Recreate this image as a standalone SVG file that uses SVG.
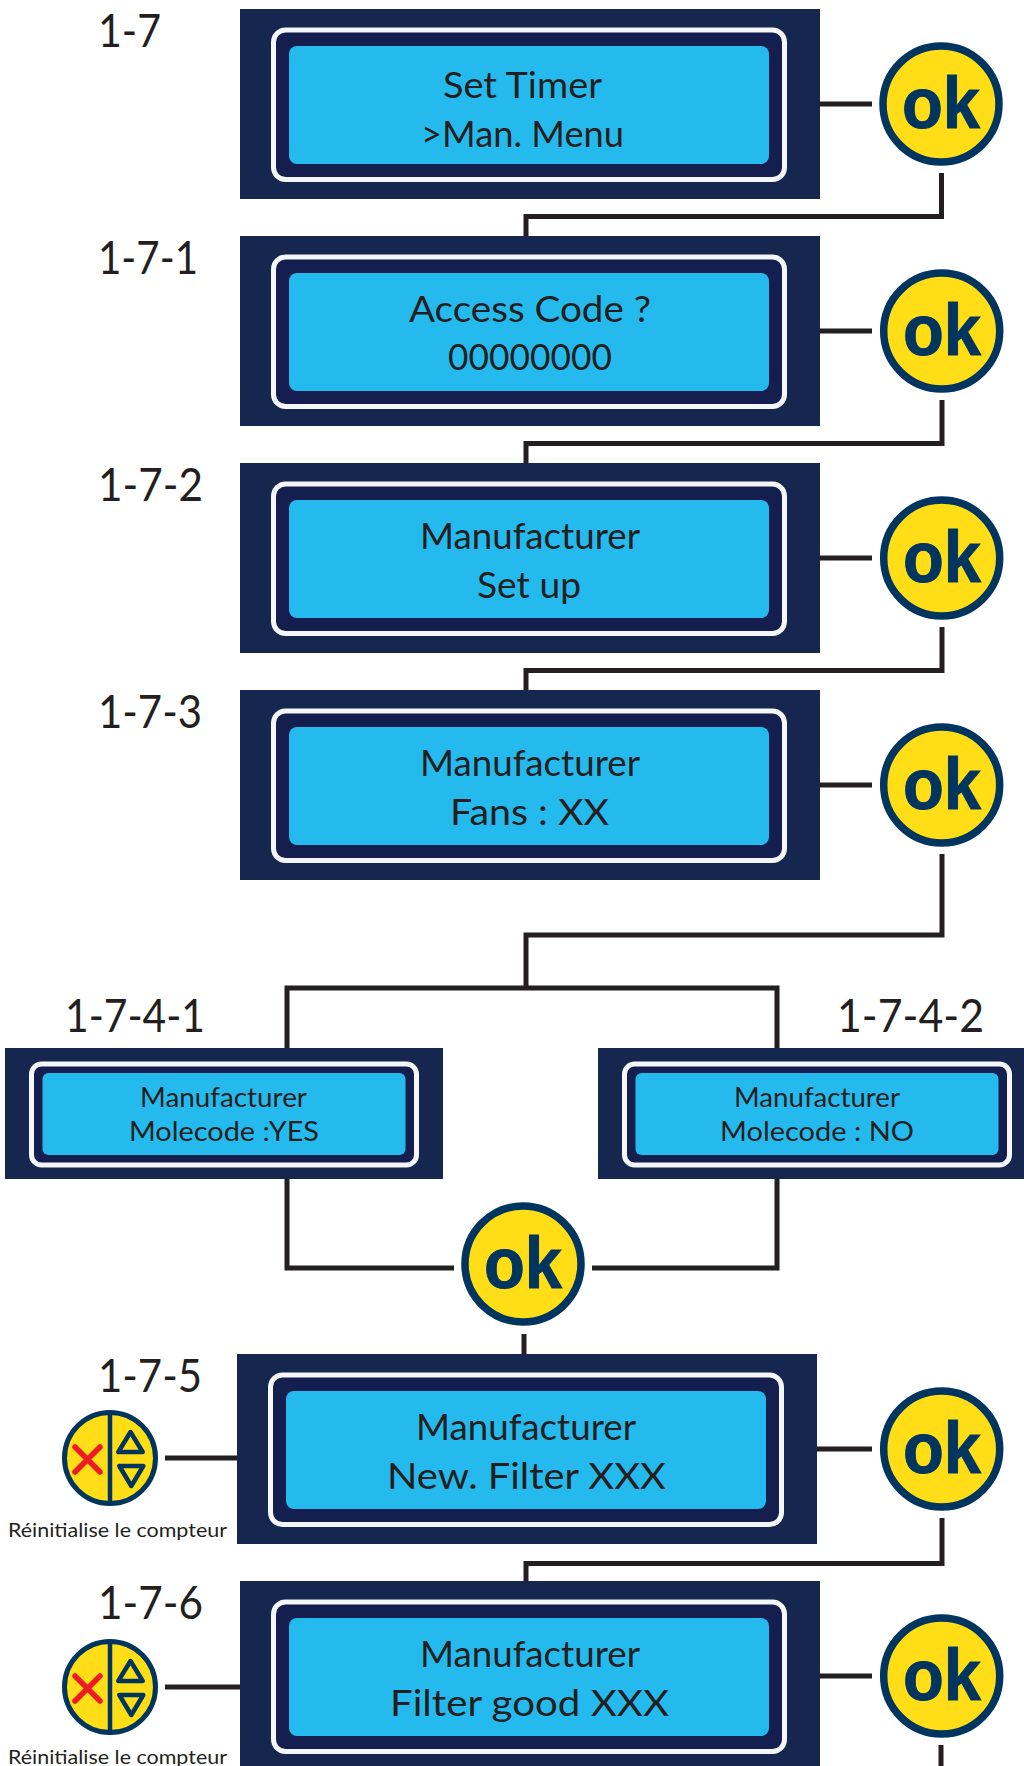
<svg xmlns="http://www.w3.org/2000/svg" xmlns:xlink="http://www.w3.org/1999/xlink" width="1024" height="1766" viewBox="0 0 1024 1766">
<style>
.bg{fill:#15264f}
.frame{fill:#141f50;stroke:#f4f6f8;stroke-width:5}
.screen{fill:#25baee}
.t{font-family:Lato,"Liberation Sans",sans-serif;fill:#231f20;text-anchor:start}
.lcd{font-size:37px}
.lcds{font-size:26px}
.lab{font-size:47px}
.cap{font-size:20px}
.okc{fill:#ffdd17;stroke:#00355f;stroke-width:7.5}
.okt{font-family:"Liberation Sans",Arial,sans-serif;font-weight:700;font-size:72px;fill:#00355f;stroke:#00355f;stroke-width:1}
.conn path{fill:none;stroke:#231f20;stroke-width:5;stroke-linejoin:miter}
.ic{fill:#ffdd17;stroke:#00355f;stroke-width:5}
.iv{stroke:#00355f;stroke-width:4.5}
.tri{fill:none;stroke:#00355f;stroke-width:4.5;stroke-linejoin:round}
.x{stroke:#ed1c24;stroke-width:5.5;stroke-linecap:round}
</style>
<defs>
<g id="lcdBig"><rect class="bg" width="580" height="190"/><rect class="frame" x="33.5" y="21" width="511" height="149.500" rx="12"/><rect class="screen" x="49" y="37" width="480" height="118" rx="8"/></g>
<g id="lcdSmall"><rect class="bg" width="438" height="131"/><rect class="frame" x="26.5" y="16" width="385" height="101" rx="10"/><rect class="screen" x="37.5" y="25" width="363" height="82" rx="6"/></g>
<g id="reset"><circle class="ic" cx="110" cy="0" r="45.500"/><line class="iv" x1="110" y1="-45" x2="110" y2="45"/><path class="tri" d="M130.500-26 118.300-6H142.700Z"/><path class="tri" d="M119.300 8H143.300L131.300 28Z"/><path class="x" d="M75-11 100 14M100-11 75 14"/></g>
</defs>
<rect width="1024" height="1766" fill="#fff"/>
<g id="connectors" class="conn">
<path d="M820 104H872"/>
<path d="M941.500 173V216.500H526V236"/>
<path d="M820 331H872"/>
<path d="M942 400V443.500H526V463"/>
<path d="M820 558H872"/>
<path d="M942 627V670.500H526V690"/>
<path d="M820 785H872"/>
<path d="M942 854V935H526V988"/>
<path d="M287 1048V988H777V1048"/>
<path d="M287 1179V1268H454"/>
<path d="M777 1179V1268H592"/>
<path d="M524 1334V1354"/>
<path d="M817 1449H872"/>
<path d="M942 1518V1563.500H526V1581"/>
<path d="M820 1676H872"/>
<path d="M941 1745V1766"/>
<path d="M165 1458H237"/>
<path d="M165 1687H240"/>
</g>
<g id="node-1-7"><use href="#lcdBig" x="240" y="9"/>
<text class="t lcd" x="443" y="98" textLength="159" lengthAdjust="spacingAndGlyphs">Set Timer</text>
<text class="t lcd" x="421" y="147" textLength="203" lengthAdjust="spacingAndGlyphs">&gt;Man. Menu</text></g>
<g id="node-1-7-1"><use href="#lcdBig" x="240" y="236"/>
<text class="t lcd" x="409" y="322" textLength="242" lengthAdjust="spacingAndGlyphs">Access Code ?</text>
<text class="t lcd" x="448" y="370" textLength="164" lengthAdjust="spacingAndGlyphs">00000000</text></g>
<g id="node-1-7-2"><use href="#lcdBig" x="240" y="463"/>
<text class="t lcd" x="420" y="549" textLength="220" lengthAdjust="spacingAndGlyphs">Manufacturer</text>
<text class="t lcd" x="477" y="598" textLength="104" lengthAdjust="spacingAndGlyphs">Set up</text></g>
<g id="node-1-7-3"><use href="#lcdBig" x="240" y="690"/>
<text class="t lcd" x="420" y="776" textLength="220" lengthAdjust="spacingAndGlyphs">Manufacturer</text>
<text class="t lcd" x="450" y="825" textLength="159" lengthAdjust="spacingAndGlyphs">Fans : XX</text></g>
<g id="node-1-7-4-1"><use href="#lcdSmall" x="5" y="1048"/>
<text class="t lcds" x="140" y="1107" textLength="167" lengthAdjust="spacingAndGlyphs">Manufacturer</text>
<text class="t lcds" x="129" y="1141" textLength="190" lengthAdjust="spacingAndGlyphs">Molecode :YES</text></g>
<g id="node-1-7-4-2"><use href="#lcdSmall" x="598" y="1048"/>
<text class="t lcds" x="734" y="1107" textLength="166" lengthAdjust="spacingAndGlyphs">Manufacturer</text>
<text class="t lcds" x="720" y="1141" textLength="194" lengthAdjust="spacingAndGlyphs">Molecode : NO</text></g>
<g id="node-1-7-5"><use href="#lcdBig" x="237" y="1354"/>
<text class="t lcd" x="416" y="1440" textLength="220" lengthAdjust="spacingAndGlyphs">Manufacturer</text>
<text class="t lcd" x="387" y="1489" textLength="279" lengthAdjust="spacingAndGlyphs">New. Filter XXX</text></g>
<g id="node-1-7-6"><use href="#lcdBig" x="240" y="1581"/>
<text class="t lcd" x="420" y="1667" textLength="220" lengthAdjust="spacingAndGlyphs">Manufacturer</text>
<text class="t lcd" x="390" y="1716" textLength="279" lengthAdjust="spacingAndGlyphs">Filter good XXX</text></g>
<g id="labels">
<text class="t lab" x="98" y="47" textLength="63" lengthAdjust="spacingAndGlyphs">1-7</text>
<text class="t lab" x="98" y="274" textLength="100" lengthAdjust="spacingAndGlyphs">1-7-1</text>
<text class="t lab" x="98" y="501" textLength="105" lengthAdjust="spacingAndGlyphs">1-7-2</text>
<text class="t lab" x="98" y="728" textLength="104" lengthAdjust="spacingAndGlyphs">1-7-3</text>
<text class="t lab" x="65" y="1032" textLength="140" lengthAdjust="spacingAndGlyphs">1-7-4-1</text>
<text class="t lab" x="837" y="1032" textLength="147" lengthAdjust="spacingAndGlyphs">1-7-4-2</text>
<text class="t lab" x="98" y="1392" textLength="104" lengthAdjust="spacingAndGlyphs">1-7-5</text>
<text class="t lab" x="98" y="1619" textLength="105" lengthAdjust="spacingAndGlyphs">1-7-6</text>
</g>
<g id="ok-1"><circle class="okc" cx="941" cy="104" r="58"/><text class="okt" x="902" y="128" textLength="78" lengthAdjust="spacingAndGlyphs">ok</text></g>
<g id="ok-2"><circle class="okc" cx="941.700" cy="331" r="58"/><text class="okt" x="903" y="355" textLength="78" lengthAdjust="spacingAndGlyphs">ok</text></g>
<g id="ok-3"><circle class="okc" cx="941.700" cy="558" r="58"/><text class="okt" x="903" y="582" textLength="78" lengthAdjust="spacingAndGlyphs">ok</text></g>
<g id="ok-4"><circle class="okc" cx="941.700" cy="785" r="58"/><text class="okt" x="903" y="809" textLength="78" lengthAdjust="spacingAndGlyphs">ok</text></g>
<g id="ok-merge"><circle class="okc" cx="523" cy="1264" r="58"/><text class="okt" x="484" y="1288" textLength="78" lengthAdjust="spacingAndGlyphs">ok</text></g>
<g id="ok-5"><circle class="okc" cx="941.700" cy="1449" r="58"/><text class="okt" x="903" y="1473" textLength="78" lengthAdjust="spacingAndGlyphs">ok</text></g>
<g id="ok-6"><circle class="okc" cx="941.700" cy="1676" r="58"/><text class="okt" x="903" y="1700" textLength="78" lengthAdjust="spacingAndGlyphs">ok</text></g>
<g id="reset-1"><use href="#reset" y="1458"/><text class="t cap" x="8" y="1537" textLength="219" lengthAdjust="spacingAndGlyphs">Réinitialise le compteur</text></g>
<g id="reset-2"><use href="#reset" y="1687"/><text class="t cap" x="8" y="1764" textLength="219" lengthAdjust="spacingAndGlyphs">Réinitialise le compteur</text></g>
</svg>
